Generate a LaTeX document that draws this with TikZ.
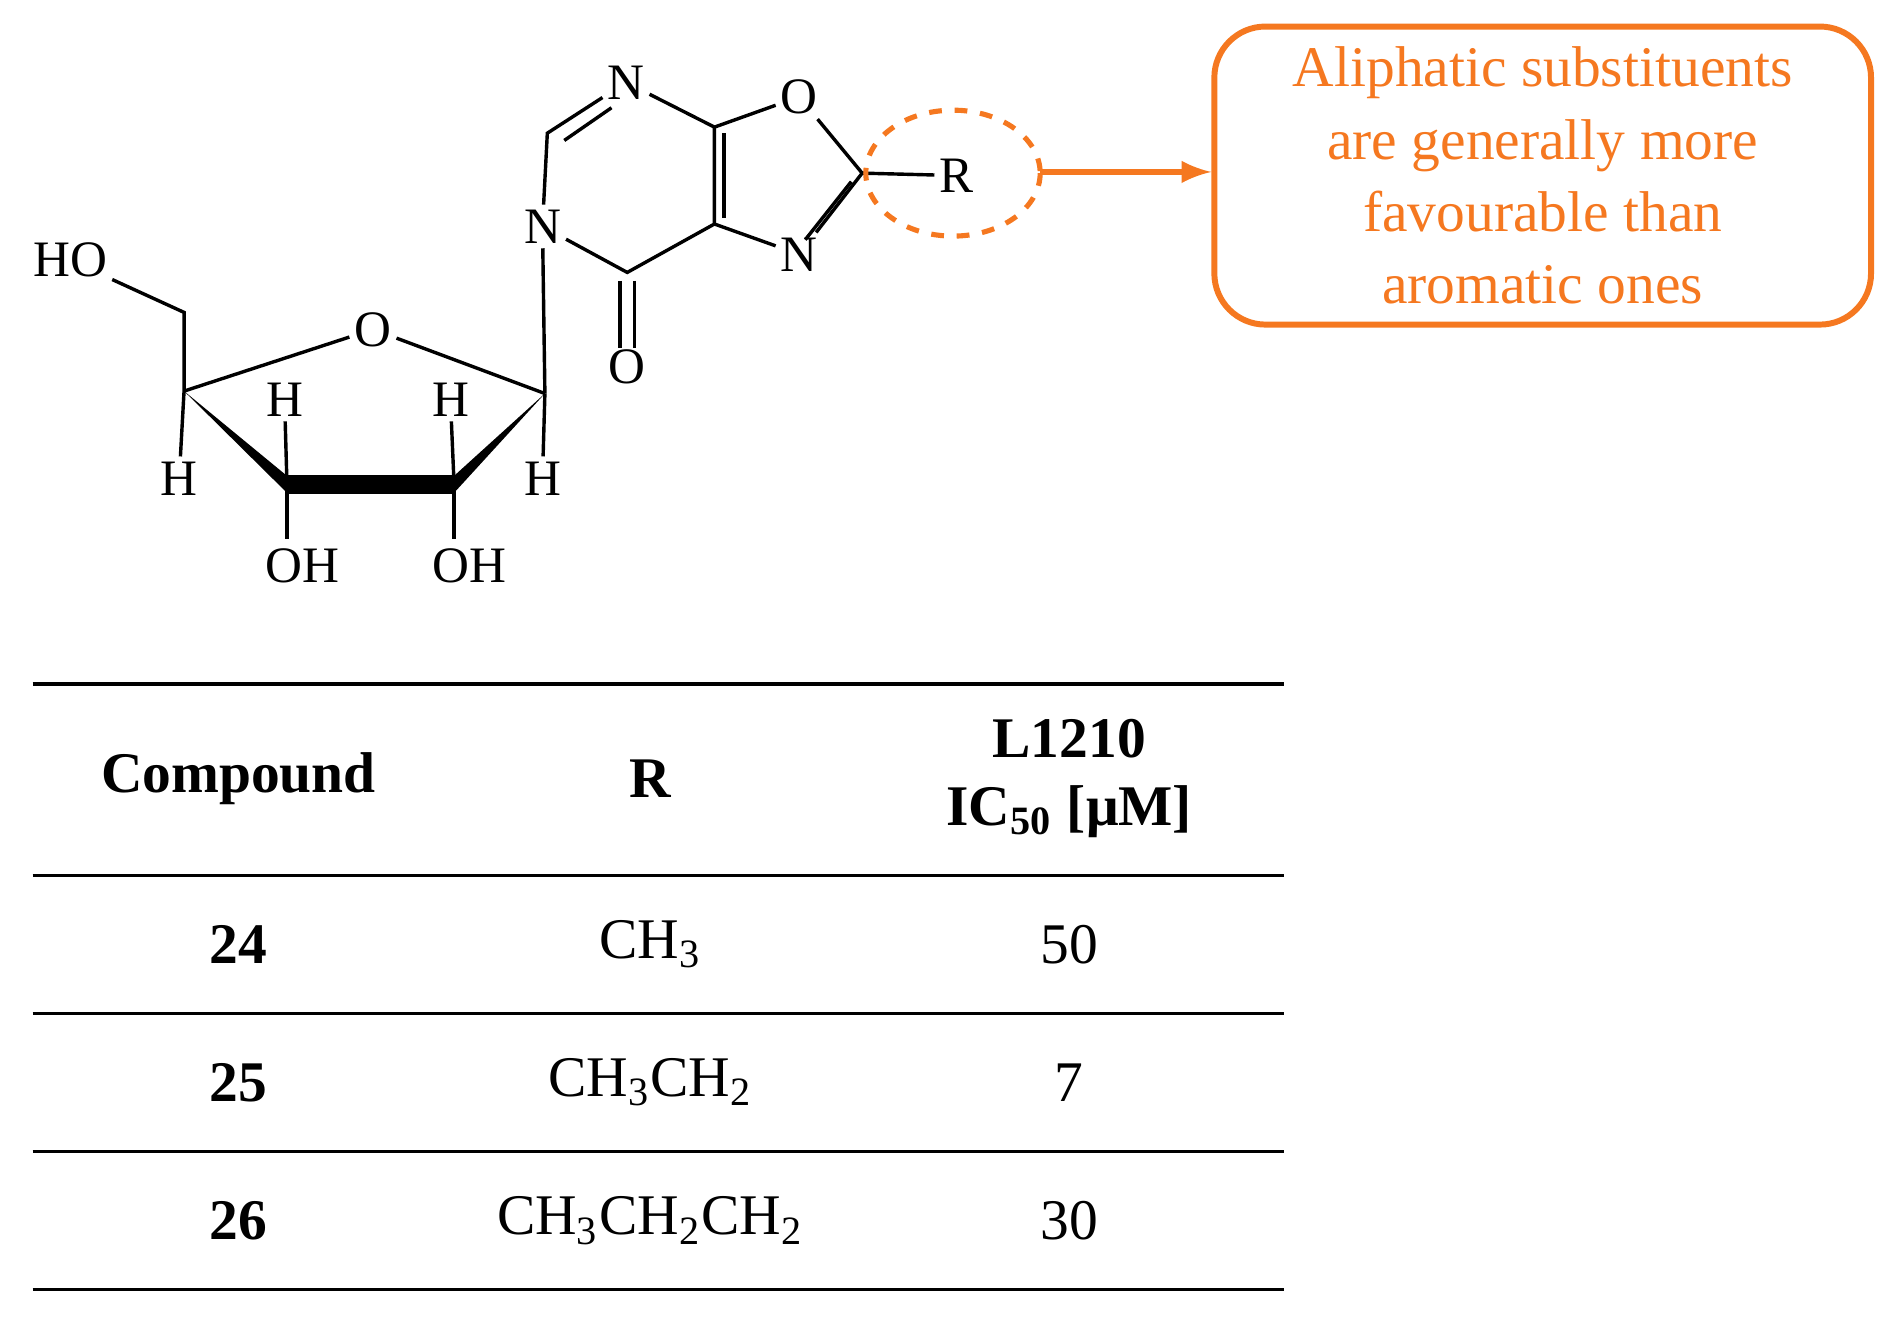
\documentclass[tikz,border=0pt]{standalone}
\usepackage{fontspec}
\setmainfont{Liberation Serif}
\begin{document}
\begin{tikzpicture}[x=0.01cm,y=-0.01cm,
 atm/.style={font=\fontsize{12}{12}\selectfont,inner sep=1pt},
 bd/.style={line width=0.8pt},
 tb/.style={font=\fontsize{13.5}{13.5}\selectfont},
 tbb/.style={font=\bfseries\fontsize{13.5}{13.5}\selectfont},
 orng/.style={color={rgb,255:red,245;green,120;blue,32}}]
\useasboundingbox (0,0) rectangle (1560,1092);
% atoms
\node[atm] (N1) at (517,68) {N};
\node[atm] (Or) at (660,80) {O};
\node[atm] (N3) at (448,187) {N};
\node[atm] (N7) at (660,210) {N};
\node[atm] (Oe) at (518,303) {O};
\node[atm] (R) at (790,145) {R};
\coordinate (C2) at (452,110);
\coordinate (C4) at (518,225);
\coordinate (C7a) at (590,105);
\coordinate (C3a) at (590,185);
\coordinate (Cx) at (712,143);
\draw[bd] (N1) -- (C2) -- (N3) -- (C4) -- (C3a) -- (C7a) -- (N1);
\draw[bd] (466,116) -- (505,89);
\draw[bd] (598,110) -- (598,180);
\draw[bd] (C7a) -- (Or) -- (Cx) -- (N7) -- (C3a);
\draw[bd] (703,150) -- (665,198);
\draw[bd] (Cx) -- (R);
\draw[bd] (512,232) -- (512,287);
\draw[bd] (524,232) -- (524,287);
% sugar
\node[atm] (O4) at (308,272) {O};
\node[atm] (HO) at (58,215) {HO};
\coordinate (C1) at (450,325);
\coordinate (C2s) at (375,400);
\coordinate (C3s) at (237,400);
\coordinate (C4s) at (152,323);
\coordinate (C5) at (152,258);
\draw[bd] (N3) -- (C1);
\draw[bd] (O4) -- (C1);
\draw[bd] (O4) -- (C4s);
\draw[bd] (C4s) -- (C5) -- (HO);
\fill (C4s) -- (237,393) -- (237,407) -- cycle;
\fill (C1) -- (375,393) -- (375,407) -- cycle;
\draw[line width=4.5pt] (C3s) -- (C2s);
\node[atm] (H4) at (148,395) {H};
\node[atm] (H3) at (235,330) {H};
\node[atm] (H2) at (372,330) {H};
\node[atm] (H1) at (448,395) {H};
\node[atm] (OH3) at (250,467) {OH};
\node[atm] (OH2) at (388,467) {OH};
\draw[bd] (C4s) -- (H4); \draw[bd] (C3s) -- (H3); \draw[bd] (C2s) -- (H2);
\draw[bd] (C1) -- (H1); \draw[bd] (C3s) -- (237,445); \draw[bd] (C2s) -- (375,445);
% annotation
\draw[orng,dashed,line width=1.2pt] (787,143) ellipse (72 and 52);
\coordinate (ae) at (859,142);
\node[orng,draw,line width=1.4pt,rounded corners=12pt,minimum width=5.42cm,minimum height=2.46cm,inner sep=2pt,align=center,font=\fontsize{13.5}{17}\selectfont] (box) at (1274,145) {Aliphatic substituents\\are generally  more\\favourable than\\aromatic ones};
\draw[orng,line width=1.4pt,-latex] (ae) -- (ae -| box.west);
% table
\foreach \y in {565,723,837,951,1065} \draw[line width=0.8pt] (27,\y) -- (1060,\y);
\node[tbb] (h1) at (197,643) {Compound};
\node[tbb] (h2) at (537,643) {R};
\node[tbb,font=\bfseries\fontsize{13.5}{16}\selectfont,align=center] (h3) at (883,643) {L1210\\IC\textsubscript{50} [μM]};
\node[tbb] at (197,780) {24};
\node[tbb] at (197,894) {25};
\node[tbb] at (197,1008) {26};
\node[tb] at (537,780) {CH\textsubscript{3}};
\node[tb] at (537,894) {CH\textsubscript{3}CH\textsubscript{2}};
\node[tb] at (537,1008) {CH\textsubscript{3}CH\textsubscript{2}CH\textsubscript{2}};
\node[tb] at (883,780) {50};
\node[tb] at (883,894) {7};
\node[tb] at (883,1008) {30};
\end{tikzpicture}
\end{document}
